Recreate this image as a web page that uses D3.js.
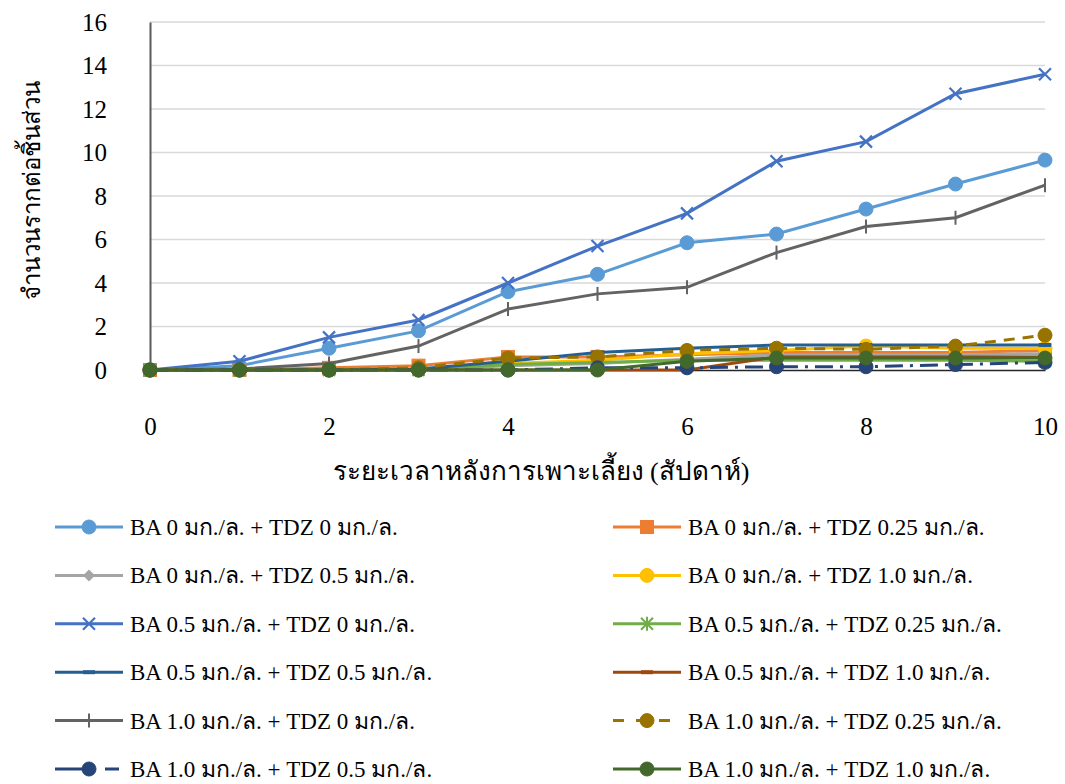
<!DOCTYPE html>
<html>
<head>
<meta charset="utf-8">
<script src="https://cdn.jsdelivr.net/npm/d3@7"></script>
<style>
	body { margin: 0; background: #fff; }
	text { font-family: "Liberation Serif", "Times New Roman", serif; fill: #000; }
</style>
</head>
<body>
<script>
var weeks = [0, 1, 2, 3, 4, 5, 6, 7, 8, 9, 10];
var y_ticks = [0, 2, 4, 6, 8, 10, 12, 14, 16];
var x_ticks = [0, 2, 4, 6, 8, 10];

var series_names = [
	"BA 0 มก./ล. + TDZ 0 มก./ล.",
	"BA 0 มก./ล. + TDZ 0.25 มก./ล.",
	"BA 0 มก./ล. + TDZ 0.5 มก./ล.",
	"BA 0 มก./ล. + TDZ 1.0 มก./ล.",
	"BA 0.5 มก./ล. + TDZ 0 มก./ล.",
	"BA 0.5 มก./ล. + TDZ 0.25 มก./ล.",
	"BA 0.5 มก./ล. + TDZ 0.5 มก./ล.",
	"BA 0.5 มก./ล. + TDZ 1.0 มก./ล.",
	"BA 1.0 มก./ล. + TDZ 0 มก./ล.",
	"BA 1.0 มก./ล. + TDZ 0.25 มก./ล.",
	"BA 1.0 มก./ล. + TDZ 0.5 มก./ล.",
	"BA 1.0 มก./ล. + TDZ 1.0 มก./ล."
];

var ba0_tdz0 = [0, 0.2, 1.0, 1.8, 3.6, 4.4, 5.85, 6.25, 7.4, 8.55, 9.65];
var ba0_tdz025 = [0, 0, 0.1, 0.2, 0.6, 0.6, 0.7, 0.8, 0.8, 0.8, 0.9];
var ba0_tdz05 = [0, 0, 0, 0, 0.2, 0.3, 0.5, 0.7, 0.7, 0.7, 0.75];
var ba0_tdz10 = [0, 0, 0, 0, 0.3, 0.45, 0.75, 0.9, 1.1, 1.0, 1.0];
var ba05_tdz0 = [0, 0.4, 1.5, 2.3, 4.0, 5.7, 7.2, 9.6, 10.5, 12.7, 13.6];
var ba05_tdz025 = [0, 0, 0, 0, 0.25, 0.35, 0.45, 0.45, 0.45, 0.45, 0.4];
var ba05_tdz05 = [0, 0, 0, 0.05, 0.4, 0.8, 1.0, 1.15, 1.15, 1.15, 1.15];
var ba05_tdz10 = [0, 0, 0, 0, 0, 0, 0, 0.6, 0.6, 0.6, 0.6];
var ba10_tdz0 = [0, 0.05, 0.3, 1.1, 2.8, 3.5, 3.8, 5.4, 6.6, 7.0, 8.5];
var ba10_tdz025 = [0, 0, 0, 0.1, 0.55, 0.6, 0.9, 1.0, 0.95, 1.1, 1.6];
var ba10_tdz05 = [0, 0, 0, 0, 0, 0.1, 0.1, 0.15, 0.15, 0.25, 0.35];
var ba10_tdz10 = [0, 0, 0, 0, 0, 0, 0.4, 0.55, 0.55, 0.55, 0.55];

var series_values = [ba0_tdz0, ba0_tdz025, ba0_tdz05, ba0_tdz10, ba05_tdz0, ba05_tdz025,
	ba05_tdz05, ba05_tdz10, ba10_tdz0, ba10_tdz025, ba10_tdz05, ba10_tdz10];

var colors = ['#5B9BD5', '#ED7D31', '#A5A5A5', '#FFC000', '#4472C4', '#70AD47',
	'#255E91', '#9E480E', '#636363', '#997300', '#264478', '#43682B'];
var markers = ['circle', 'square', 'diamond', 'circle', 'x', 'star',
	'dash', 'dash', 'plus', 'circle', 'circle', 'circle'];
var dashes = [null, null, null, null, null, null, null, null, null, '11,8', '18,7,3,7', null];

var width = 1065, height = 784;
var x = d3.scaleLinear().domain([0, 10]).range([150, 1045]);
var y = d3.scaleLinear().domain([0, 16]).range([370, 22]);

var svg = d3.select("body").append("svg")
	.attr("width", width)
	.attr("height", height);

// grid
svg.selectAll(".grid")
	.data(y_ticks.filter(function(d) { return d > 0; }))
	.enter()
	.append("line")
	.attr("class", "grid")
	.attr("x1", x(0))
	.attr("x2", x(10))
	.attr("y1", function(d) { return y(d); })
	.attr("y2", function(d) { return y(d); })
	.style("stroke", "#D9D9D9")
	.style("stroke-width", 1.3);

// axes
var y_axis = svg.append("g")
	.attr("transform", "translate(" + x(0) + ",0)")
	.call(d3.axisLeft(y).tickValues(y_ticks).tickSize(0).tickPadding(43).tickFormat(d3.format("d")));
y_axis.select(".domain").style("stroke", "#595959").style("stroke-width", 2);
y_axis.selectAll("text").style("font-size", "25px").attr("font-family", null);

var x_axis = svg.append("g")
	.attr("transform", "translate(0," + y(0) + ")")
	.call(d3.axisBottom(x).tickValues(x_ticks).tickSize(0).tickPadding(47).tickFormat(d3.format("d")));
x_axis.select(".domain").style("stroke", "#262626").style("stroke-width", 1.5);
x_axis.selectAll("text").style("font-size", "25px").attr("font-family", null);

svg.append("text")
	.attr("text-anchor", "middle")
	.attr("transform", "translate(40,190) rotate(-90)")
	.style("font-size", "24px")
	.text("จำนวนรากต่อชิ้นส่วน");

svg.append("text")
	.attr("text-anchor", "middle")
	.attr("x", 541)
	.attr("y", 480)
	.style("font-size", "26px")
	.text("ระยะเวลาหลังการเพาะเลี้ยง (สัปดาห์)");

function draw_marker(g, type, color, cx, cy) {
	if (type == 'circle') {
		g.append("circle").attr("cx", cx).attr("cy", cy).attr("r", 7)
			.style("fill", color).style("stroke", color);
	} else if (type == 'square') {
		g.append("rect").attr("x", cx - 6.5).attr("y", cy - 6.5).attr("width", 13).attr("height", 13)
			.style("fill", color).style("stroke", color);
	} else if (type == 'diamond') {
		g.append("path").attr("d", "M" + cx + "," + (cy - 6) + "L" + (cx + 6) + "," + cy + "L" + cx + "," + (cy + 6) + "L" + (cx - 6) + "," + cy + "Z")
			.style("fill", color);
	} else if (type == 'x') {
		g.append("path").attr("d", "M" + (cx - 6) + "," + (cy - 6) + "L" + (cx + 6) + "," + (cy + 6) + "M" + (cx + 6) + "," + (cy - 6) + "L" + (cx - 6) + "," + (cy + 6))
			.style("stroke", color).style("stroke-width", 2.2);
	} else if (type == 'plus') {
		g.append("path").attr("d", "M" + cx + "," + (cy - 7) + "L" + cx + "," + (cy + 7))
			.style("stroke", color).style("stroke-width", 2);
	} else if (type == 'star') {
		g.append("path").attr("d", "M" + (cx - 6) + "," + (cy - 6) + "L" + (cx + 6) + "," + (cy + 6) + "M" + (cx + 6) + "," + (cy - 6) + "L" + (cx - 6) + "," + (cy + 6) + "M" + cx + "," + (cy - 7) + "L" + cx + "," + (cy + 7))
			.style("stroke", color).style("stroke-width", 2);
	} else if (type == 'dash') {
		g.append("line").attr("x1", cx - 6).attr("x2", cx + 6).attr("y1", cy).attr("y2", cy)
			.style("stroke", color).style("stroke-width", 4);
	}
}

var line = d3.line()
	.x(function(d, i) { return x(weeks[i]); })
	.y(function(d) { return y(d); });

series_values.forEach(function(values, j) {
	var g = svg.append("g").attr("class", "series_" + j);
	g.append("path")
		.attr("d", line(values))
		.style("fill", "none")
		.style("stroke", colors[j])
		.style("stroke-width", 3)
		.style("stroke-dasharray", dashes[j]);
	values.forEach(function(v, i) {
		draw_marker(g, markers[j], colors[j], x(weeks[i]), y(v));
	});
});

// legend
var legend = svg.selectAll(".legend")
	.data(series_names)
	.enter()
	.append("g")
	.attr("class", "legend")
	.attr("transform", function(d, i) {
		var col = i % 2;
		var row = Math.floor(i / 2);
		return "translate(" + (col == 0 ? 55 : 613) + "," + (527 + row * 48.4) + ")";
	});

legend.each(function(d, i) {
	var g = d3.select(this);
	g.append("line")
		.attr("x1", 0)
		.attr("x2", 68)
		.attr("y1", 0)
		.attr("y2", 0)
		.style("stroke", colors[i])
		.style("stroke-width", 3)
		.style("stroke-dasharray", dashes[i] == null ? null : (i == 9 ? '11,12' : '40,10,14'));
	draw_marker(g, markers[i], colors[i], 34, 0);
	g.append("text")
		.attr("x", 75)
		.attr("y", 8)
		.style("font-size", "23px")
		.text(d);
});
</script>
</body>
</html>
